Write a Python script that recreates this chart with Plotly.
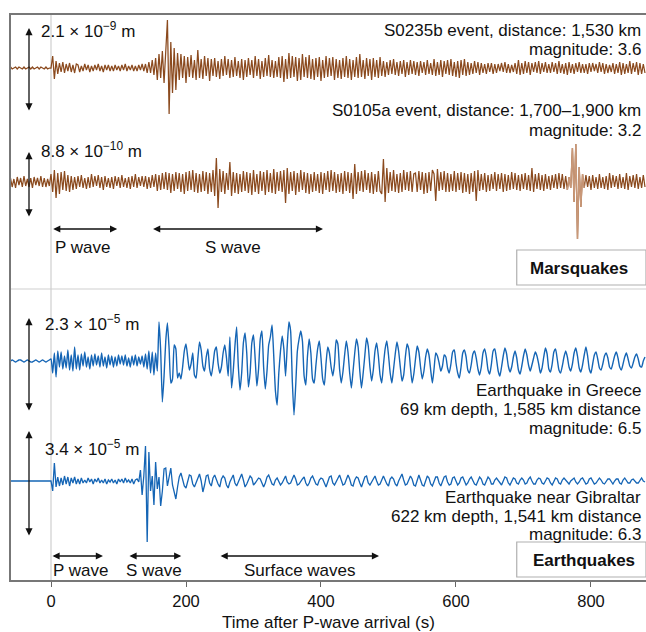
import numpy as np
import plotly.graph_objects as go

T0 = -60.0
DT = 2.5

# Relative displacement (display units, + = up)
s0235b = [
    1,-1,0,1,-1,1,0,-1,1,-1,0,1,-1,1,-1,0,1,-1,1,0,
    -1,1,-1,0,0,12,-11,7,-6,5,-4,6,-5,4,-3,5,-4,3,-5,4,
    3,-4,2,-3,4,-2,3,-4,2,-3,3,-2,4,-3,2,-4,3,-2,3,-3,
    2,-3,3,-2,2,-3,3,-2,4,-3,2,-2,3,-3,2,-3,3,-2,4,-3,
    4,-5,6,-5,8,-7,10,-12,14,-10,17,-15,12,48,-46,26,-25,20,-22,15,
    -12,14,-10,12,-15,11,-9,13,-10,8,-12,18,-10,9,-11,12,-8,10,-13,9,
    -8,10,-9,7,-11,9,-8,12,-7,9,-10,8,-9,11,-8,7,-10,9,-12,8,
    -9,10,-7,8,-10,12,-8,9,-11,7,-9,10,-8,13,-9,8,-10,7,-9,11,
    -10,12,-14,9,-11,15,-10,12,-9,11,-13,10,-12,14,-9,11,-10,13,-11,9,
    -12,10,-9,11,-13,8,-10,12,-9,10,-8,11,-12,9,-10,8,-11,10,-9,12,
    -10,9,-12,8,-9,11,-10,14,-9,8,-11,10,-8,9,-12,10,-9,8,-10,11,
    -8,7,-9,6,-7,8,-6,9,-7,6,-8,7,-6,8,-9,6,-7,8,-6,7,
    -7,6,-8,7,-5,6,-7,8,-6,5,-7,9,-8,6,-7,8,-9,7,-6,8,
    -7,9,-8,6,-9,7,-10,8,-7,9,-8,6,-7,5,-6,7,-5,6,-7,5,
    -5,4,-6,5,-4,5,-6,4,-5,4,-3,5,-4,6,-5,4,-5,3,-4,5,
    -6,8,-7,5,-6,7,-5,6,-7,5,-4,6,-5,7,-6,5,-4,6,-5,4,
    -5,6,-4,5,-6,7,-5,4,-6,5,-7,6,-5,4,-6,5,-4,6,-5,4,
    -5,4,-6,5,-4,5,-3,4,-5,6,-4,5,-6,4,-5,3,-4,5,-6,4,
    -5,6,-7,5,-6,4,-5,7,-6,5,-4,6,-7,5,-6,4,-5,
]
s0105a = [
    4,-5,3,-6,5,-3,4,-5,6,-4,3,-5,4,-6,5,-3,4,-4,6,-5,
    4,-5,3,-4,8,-10,12,-16,9,-12,10,-8,11,-9,7,-10,6,-8,5,-7,
    6,-5,7,-6,4,-7,5,-6,8,-5,6,-4,7,-6,5,-8,6,-5,4,-6,
    5,-7,6,-4,5,-6,7,-5,4,-6,5,-7,6,-5,8,-6,5,-4,6,-5,
    6,-7,5,-6,7,-5,8,-9,7,-8,9,-7,10,-8,9,-11,8,-9,10,-7,
    9,-10,8,-12,10,-9,11,-8,12,-10,9,-11,8,-10,11,-9,10,-12,9,-10,
    12,-14,24,-26,13,-10,11,-12,9,-8,20,-14,10,-11,9,-12,8,-10,11,-9,
    10,-11,9,-13,12,-10,8,-12,11,-9,10,-13,12,-10,9,-11,13,-12,10,-9,
    11,-10,12,-21,14,-12,10,-9,11,-13,9,-10,12,-8,10,-11,9,-12,8,-10,
    10,-9,8,-11,10,-12,9,-8,11,-10,12,-9,10,-11,8,-10,9,-12,11,-9,
    10,-11,9,-17,18,-12,10,-9,11,-10,12,-8,9,-11,10,-12,8,-10,11,-9,
    -12,23,-20,14,-11,10,-9,12,-10,8,-11,9,-10,12,-8,10,-9,11,-10,8,
    9,-10,11,-8,10,-12,9,-11,10,-9,12,8,-19,13,-9,10,-8,11,-10,9,
    -10,8,-9,11,-10,9,-8,10,-11,9,-10,8,-12,9,-10,11,-19,12,-9,8,
    -8,9,-10,7,-9,8,-7,10,-9,8,-7,9,-10,8,-9,7,-8,10,-7,9,
    -8,7,-9,8,-7,9,-8,7,-9,14,-10,8,-7,9,-8,7,-9,8,-7,6,
    -8,7,-6,8,-7,9,-6,8,-7,6,-8,5,-6,34,-20,38,-57,15,-25,8,
    -6,7,-5,6,-8,7,-6,5,-7,8,-6,5,-7,6,-8,9,-6,7,-5,6,
    -7,8,-6,5,-7,9,-8,6,-5,7,-6,8,-7,5,-6,7,-5,
]
greece = [
    0,1,0,-1,0,1,1,0,-1,0,1,0,-1,-1,0,1,0,-1,0,1,
    0,-1,0,1,2,-12,8,-16,10,-6,9,-8,5,-7,11,-9,6,-10,14,-8,
    6,-9,7,-5,9,-6,4,-8,6,-5,7,-4,5,-6,8,-5,4,-7,6,-4,
    5,-6,4,-5,6,-3,5,-4,6,-5,3,-6,5,-4,6,-5,4,-3,5,-6,
    7,-8,10,-12,9,-14,8,-10,39,10,-41,-15,20,38,12,-22,-18,16,12,-17,
    -12,-18,-6,10,17,4,-9,-3,8,-14,-17,2,19,11,-5,-10,4,12,-8,-15,
    -4,10,14,-2,-12,-6,8,16,3,-15,24,-27,-10,15,34,-5,-29,-12,18,28,
    8,-26,-12,18,26,2,-25,-8,22,30,-6,-28,-10,16,24,36,5,-30,-44,-12,
    10,25,12,-15,15,39,30,-20,-54,-25,10,22,30,20,-15,-24,5,22,8,-18,
    -22,-4,12,20,3,-18,-24,-2,14,8,-6,-15,-3,21,17,-8,-22,-11,6,20,
    9,-12,-27,-10,8,22,14,-10,-27,-12,6,23,15,-6,-20,-9,10,18,5,-14,
    -22,-4,12,20,6,-12,-22,-8,7,19,10,-6,-20,-14,4,17,12,-6,-22,-13,
    2,15,9,-6,-18,-10,4,12,6,-9,-22,-8,8,5,-2,-10,-5,6,4,-7,
    -12,-3,9,11,-2,-12,-17,-6,8,11,4,-9,-12,-4,7,10,3,-8,-14,-6,
    8,12,4,-9,-13,-3,10,12,2,-10,-15,-6,5,13,7,-5,-11,-6,4,10,
    3,-9,-13,-5,5,12,6,-4,-10,-4,3,9,5,-3,-12,-7,4,13,7,-8,
    -11,-3,9,12,2,-9,-12,-5,4,10,4,-6,-10,-3,8,13,5,-7,-11,-4,
    6,14,5,-8,-12,-3,6,9,2,-7,-9,-3,5,8,3,-6,-8,-2,5,9,
    3,-6,-9,-3,4,8,2,-5,-7,-2,4,7,2,-5,-6,0,4,
]
gibraltar = [
    0,0,0,0,0,0,0,0,0,0,0,0,0,0,0,0,0,0,0,0,
    0,0,0,0,0,-10,18,-6,4,-5,3,-4,5,-3,4,-5,3,-2,4,-3,
    2,-3,3,-2,1,-2,3,-1,2,-3,2,-1,3,-2,1,-2,2,-3,1,-1,
    2,-2,1,-3,2,-1,2,-2,3,-1,1,-2,2,-3,1,2,-1,11,-14,5,
    35,-61,29,-10,5,-24,19,-8,4,-25,-10,12,13,-5,6,13,-4,-12,-18,-6,
    4,8,2,-5,-7,1,6,5,-3,-6,-1,4,7,0,-11,-4,5,6,-2,-5,
    3,6,1,-3,-6,2,5,3,-4,-7,-1,3,6,-2,-5,-1,4,7,1,-6,
    -3,2,5,3,-4,-2,0,3,2,-3,-6,-2,4,6,1,-3,-4,1,3,0,
    -4,-2,2,5,-1,-3,-2,3,6,2,-4,-3,0,2,4,-2,-5,-2,3,5,
    1,-3,-4,1,3,2,-2,-6,-1,4,5,-2,-4,-1,3,6,1,-4,-3,2,
    6,2,-4,-5,1,4,3,-2,-6,-1,4,5,-2,-4,-1,3,5,0,-4,-3,
    2,5,1,-3,-5,2,4,2,-3,-5,0,4,7,1,-4,-3,2,5,2,-4,
    -5,2,6,1,-4,-5,1,5,3,-3,-5,0,4,4,-2,-5,-1,4,5,-1,
    -4,-3,3,4,0,-4,-2,3,4,-1,-4,-2,2,4,1,-3,-4,1,4,2,
    -3,-4,1,4,2,-3,-3,1,3,1,-2,-4,0,4,3,-2,-4,-1,3,2,
    -2,-3,1,3,1,-3,-2,2,4,0,-3,-3,1,3,2,-2,-3,0,3,2,
    -2,-4,0,3,2,-2,-3,1,3,1,-2,-3,0,2,3,-1,-3,-1,2,3,
    0,-3,-2,2,3,0,-3,-2,1,3,1,-2,-3,0,2,2,-1,-3,0,2,
    2,-2,-3,1,3,1,-2,-2,1,2,0,-2,-2,1,3,0,-1,
]

scale_labels = ["2.1 × 10<sup>−9</sup> m", "8.8 × 10<sup>−10</sup> m",
                "2.3 × 10<sup>−5</sup> m", "3.4 × 10<sup>−5</sup> m"]
event_texts = [
    ["S0235b event, distance: 1,530 km", "magnitude: 3.6"],
    ["S0105a event, distance: 1,700–1,900 km", "magnitude: 3.2"],
    ["Earthquake in Greece", "69 km depth, 1,585 km distance", "magnitude: 6.5"],
    ["Earthquake near Gibraltar", "622 km depth, 1,541 km distance", "magnitude: 6.3"],
]
glitch_window = (765, 790)

# ---- layout constants (vertical axis in display units, 0 = bottom of frame)
MARS = "#8b4a1e"
GLITCH = "#c99878"
EARTH = "#1565b5"
BASE = [512, 398, 219, 99]
XR = [-59.26, 881.5]
FONT = "Liberation Sans, Arial, Helvetica, sans-serif"
FS = 17

fig = go.Figure()


def add_trace(vals, base, color, width, shape="linear", mask=None):
    vals = np.asarray(vals, float)
    t = T0 + DT * np.arange(len(vals))
    if mask is not None:
        keep = (t >= mask[0]) & (t <= mask[1])
        t, vals = t[keep], vals[keep]
    line = dict(color=color, width=width, shape=shape)
    if shape == "spline":
        line["smoothing"] = 0.5
    fig.add_trace(go.Scatter(x=t, y=base + vals, mode="lines", line=line,
                             hoverinfo="skip", showlegend=False))


add_trace(s0235b, BASE[0], MARS, 1.25)
add_trace(s0105a, BASE[1], MARS, 1.25)
add_trace(s0105a, BASE[1], GLITCH, 1.4, mask=glitch_window)
add_trace(greece, BASE[2], EARTH, 1.4, shape="spline")
add_trace(gibraltar, BASE[3], EARTH, 1.3)

shapes = [
    dict(type="line", xref="x", yref="y", x0=0, x1=0, y0=0, y1=565,
         line=dict(color="#cfcfcf", width=1.2), layer="below"),
    dict(type="line", xref="paper", yref="y", x0=0, x1=1, y0=291, y1=291,
         line=dict(color="#cfcfcf", width=1.2), layer="below"),
    dict(type="rect", xref="x", yref="y", x0=690, x1=881.5, y0=295, y1=330,
         line=dict(color="#b0b0b0", width=1.2), fillcolor="white"),
    dict(type="rect", xref="x", yref="y", x0=690, x1=881.5, y0=3, y1=38,
         line=dict(color="#b0b0b0", width=1.2), fillcolor="white"),
]

ann = []


def arrow(x0, y0, x1, y1):
    ann.append(dict(x=x1, y=y1, ax=x0, ay=y0, xref="x", yref="y", axref="x", ayref="y",
                    text="", showarrow=True, arrowhead=2, arrowside="end+start",
                    arrowsize=1.1, arrowwidth=1.3, arrowcolor="#111",
                    standoff=0, startstandoff=0))


def label(x, y, text, xanchor="left", size=FS, bold=False):
    ann.append(dict(x=x, y=y, xref="x", yref="y", text=f"<b>{text}</b>" if bold else text,
                    showarrow=False, xanchor=xanchor, yanchor="middle",
                    font=dict(size=size, color="#111", family=FONT)))


# vertical scale bars
bars = [(552, 468), (428, 362), (262, 168), (149, 43)]
for (ya, yb) in bars:
    arrow(-32.6, yb, -32.6, ya)
label(-18, 550, scale_labels[0])
label(-18, 430, scale_labels[1])
label(-11.5, 257, scale_labels[2])
label(-11.5, 132, scale_labels[3])

# event descriptions
ys = [[550, 531], [470, 450], [190, 171, 152], [83, 64, 46]]
for lines, yy in zip(event_texts, ys):
    for txt, y in zip(lines, yy):
        label(877, y, txt, xanchor="right")

# phase arrows
arrow(1, 351, 98, 351)
arrow(149, 351, 403, 351)
label(47, 333, "P wave", xanchor="center")
label(270, 333, "S wave", xanchor="center")
arrow(0, 24, 77, 24)
arrow(114, 24, 193, 24)
arrow(249, 24, 486, 24)
label(44, 10, "P wave", xanchor="center")
label(153, 10, "S wave", xanchor="center")
label(369, 10, "Surface waves", xanchor="center")

# panel labels
label(782, 312, "Marsquakes", xanchor="center", bold=True)
label(789, 20, "Earthquakes", xanchor="center", bold=True)

fig.update_layout(
    width=646, height=632, margin=dict(l=11, r=0, t=15, b=52),
    paper_bgcolor="white", plot_bgcolor="white",
    font=dict(family=FONT, size=FS, color="#111"),
    showlegend=False, shapes=shapes, annotations=ann,
)
fig.update_xaxes(range=XR, tickvals=[0, 200, 400, 600, 800], ticks="outside", ticklen=5,
                 tickcolor="#666", showline=True, linecolor="#777", linewidth=1.5, mirror=True,
                 showgrid=False, zeroline=False, automargin=False,
                 title=dict(text="Time after P-wave arrival (s)", standoff=11,
                            font=dict(size=FS, color="#111")),
                 tickfont=dict(size=16.5, color="#111"))
fig.update_yaxes(range=[0, 565], showticklabels=False, showgrid=False, zeroline=False,
                 showline=True, linecolor="#777", linewidth=1.5, ticks="", automargin=False)

# place the figure flush with the window (no default page margin / scrollbars)
fig.write_html("out.html", config={"displayModeBar": False},
               post_script="document.body.style.margin='0';document.body.style.overflow='hidden';")
